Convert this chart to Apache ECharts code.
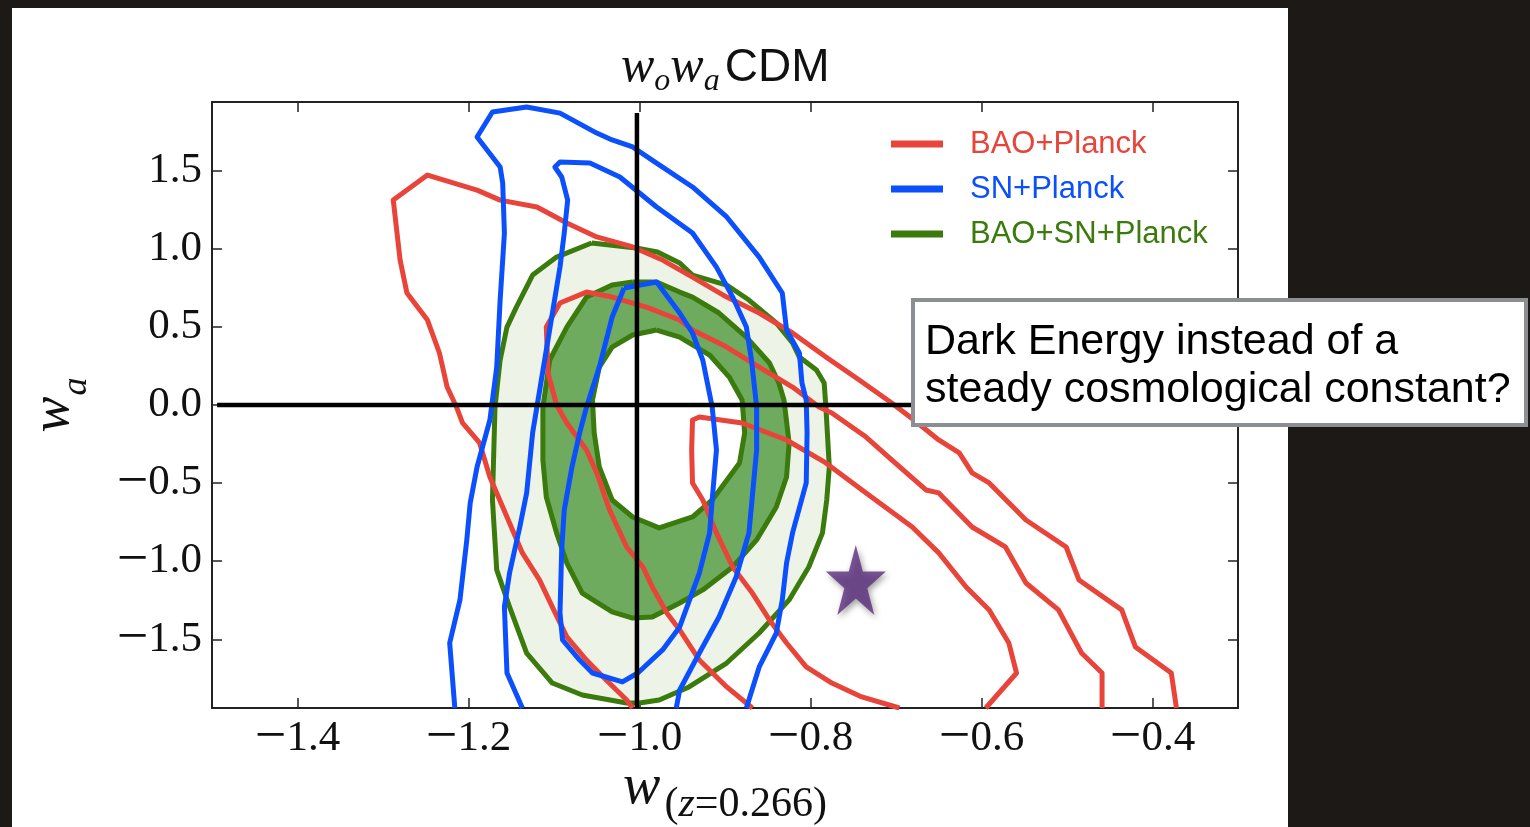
<!DOCTYPE html>
<html><head><meta charset="utf-8">
<script src="https://cdn.jsdelivr.net/npm/echarts@6/dist/echarts.min.js"></script>
<style>
html,body{margin:0;padding:0;background:#1d1916;width:1530px;height:827px;overflow:hidden}
#panel{position:absolute;left:12px;top:8px;width:1276px;height:819px;background:#fff}
#chart{position:absolute;left:0;top:0;width:1530px;height:827px}
</style></head><body>
<div id="panel"></div><div id="chart"></div>
<script>
// ---- axis ticks ----
const xTicks = [-1.4, -1.2, -1.0, -0.8, -0.6, -0.4];
const yTicks = [-1.5, -1.0, -0.5, 0, 0.5, 1.0, 1.5];

// ---- BAO+SN+Planck (green, filled) ----
const green95 = [[-1.056,1.037],[-1.004,1.005],[-0.979,0.980],[-0.953,0.909],[-0.938,0.832],[-0.898,0.768],[-0.872,0.672],[-0.840,0.525],[-0.821,0.397],[-0.813,0.307],[-0.793,0.224],[-0.784,0.141],[-0.782,-0.013],[-0.778,-0.397],[-0.781,-0.608],[-0.786,-0.819],[-0.802,-1.037],[-0.825,-1.248],[-0.860,-1.460],[-0.898,-1.652],[-0.942,-1.805],[-0.977,-1.889],[-1.000,-1.908],[-1.015,-1.908],[-1.067,-1.857],[-1.102,-1.780],[-1.132,-1.588],[-1.152,-1.293],[-1.167,-1.056],[-1.172,-0.608],[-1.169,-0.013],[-1.163,0.288],[-1.155,0.499],[-1.144,0.627],[-1.125,0.832],[-1.097,0.947],[-1.056,1.037]];
const green68 = [[-1.008,0.787],[-0.980,0.787],[-0.953,0.723],[-0.938,0.691],[-0.907,0.589],[-0.875,0.435],[-0.848,0.269],[-0.837,0.141],[-0.831,0.032],[-0.825,-0.243],[-0.828,-0.461],[-0.840,-0.653],[-0.863,-0.864],[-0.891,-1.037],[-0.926,-1.184],[-0.953,-1.268],[-0.985,-1.357],[-1.008,-1.364],[-1.032,-1.325],[-1.067,-1.204],[-1.085,-1.012],[-1.097,-0.819],[-1.109,-0.589],[-1.113,-0.352],[-1.113,-0.013],[-1.105,0.288],[-1.085,0.499],[-1.062,0.691],[-1.032,0.768],[-1.008,0.787]];
const green68hole = [[-0.980,0.480],[-0.953,0.435],[-0.918,0.320],[-0.895,0.179],[-0.880,0.032],[-0.877,-0.179],[-0.883,-0.371],[-0.915,-0.608],[-0.938,-0.717],[-0.977,-0.787],[-1.008,-0.717],[-1.032,-0.608],[-1.047,-0.397],[-1.053,-0.179],[-1.055,0.032],[-1.047,0.243],[-1.032,0.371],[-1.008,0.448],[-0.980,0.480]];

// ---- SN+Planck (blue) ----
const blueOuter = [[-1.216,-1.94],[-1.222,-1.524],[-1.210,-1.248],[-1.202,-0.864],[-1.198,-0.627],[-1.190,-0.397],[-1.175,-0.096],[-1.167,0.243],[-1.163,0.672],[-1.158,1.101],[-1.160,1.421],[-1.163,1.524],[-1.190,1.716],[-1.172,1.876],[-1.132,1.908],[-1.093,1.869],[-1.050,1.741],[-1.032,1.697],[-1.008,1.652],[-0.980,1.549],[-0.938,1.396],[-0.898,1.204],[-0.860,0.947],[-0.833,0.717],[-0.828,0.480],[-0.813,0.333],[-0.810,0.141],[-0.805,0.032],[-0.804,-0.179],[-0.805,-0.499],[-0.821,-0.819],[-0.828,-1.012],[-0.833,-1.248],[-0.840,-1.460],[-0.860,-1.677],[-0.875,-1.94]];
const blueInner = [[-1.137,-1.94],[-1.155,-1.716],[-1.158,-1.293],[-1.152,-1.076],[-1.140,-0.781],[-1.132,-0.563],[-1.125,-0.179],[-1.120,-0.013],[-1.109,0.352],[-1.093,0.883],[-1.088,1.101],[-1.084,1.312],[-1.091,1.460],[-1.099,1.524],[-1.093,1.556],[-1.058,1.549],[-1.023,1.460],[-1.000,1.357],[-0.980,1.268],[-0.938,1.101],[-0.910,0.883],[-0.891,0.691],[-0.875,0.499],[-0.869,0.288],[-0.863,-0.013],[-0.863,-0.288],[-0.872,-0.819],[-0.887,-1.101],[-0.907,-1.357],[-0.930,-1.588],[-0.953,-1.825],[-0.957,-1.94]];
const blueCore = [[-1.018,0.749],[-0.980,0.787],[-0.953,0.589],[-0.938,0.461],[-0.926,0.288],[-0.915,-0.013],[-0.910,-0.288],[-0.915,-0.608],[-0.918,-0.819],[-0.930,-1.076],[-0.953,-1.421],[-0.973,-1.568],[-1.002,-1.716],[-1.020,-1.773],[-1.055,-1.716],[-1.070,-1.633],[-1.090,-1.504],[-1.093,-1.332],[-1.091,-0.928],[-1.088,-0.672],[-1.079,-0.397],[-1.070,-0.179],[-1.062,-0.013],[-1.047,0.243],[-1.032,0.563],[-1.018,0.749]];

// ---- BAO+Planck (red) ----
const redOuter = [[-1.008,-1.94],[-1.015,-1.889],[-1.039,-1.761],[-1.062,-1.633],[-1.085,-1.485],[-1.102,-1.293],[-1.117,-1.120],[-1.137,-0.947],[-1.155,-0.717],[-1.175,-0.461],[-1.187,-0.243],[-1.207,-0.115],[-1.214,-0.013],[-1.225,0.115],[-1.234,0.333],[-1.248,0.544],[-1.272,0.717],[-1.280,0.928],[-1.288,1.312],[-1.248,1.472],[-1.190,1.376],[-1.163,1.312],[-1.120,1.268],[-1.085,1.165],[-1.050,1.076],[-1.008,1.012],[-0.973,0.928],[-0.938,0.819],[-0.898,0.691],[-0.860,0.589],[-0.821,0.461],[-0.782,0.307],[-0.743,0.160],[-0.705,0.013],[-0.679,-0.096],[-0.650,-0.224],[-0.626,-0.307],[-0.611,-0.435],[-0.591,-0.499],[-0.548,-0.736],[-0.501,-0.909],[-0.486,-1.120],[-0.436,-1.312],[-0.420,-1.549],[-0.378,-1.716],[-0.372,-1.94]];
const redMid = [[-0.868,-1.94],[-0.898,-1.805],[-0.930,-1.633],[-0.953,-1.440],[-0.968,-1.332],[-0.985,-1.165],[-0.996,-1.037],[-1.015,-0.909],[-1.035,-0.672],[-1.050,-0.435],[-1.062,-0.288],[-1.085,-0.115],[-1.097,0.000],[-1.107,0.205],[-1.109,0.499],[-1.093,0.653],[-1.062,0.723],[-1.032,0.691],[-0.992,0.627],[-0.953,0.544],[-0.938,0.480],[-0.898,0.371],[-0.860,0.243],[-0.821,0.115],[-0.790,-0.013],[-0.775,-0.051],[-0.735,-0.205],[-0.705,-0.352],[-0.665,-0.544],[-0.650,-0.563],[-0.611,-0.781],[-0.572,-0.909],[-0.548,-1.140],[-0.510,-1.312],[-0.483,-1.588],[-0.459,-1.716],[-0.459,-1.94]];
const redInner = [[-0.696,-1.94],[-0.740,-1.869],[-0.775,-1.780],[-0.805,-1.677],[-0.828,-1.524],[-0.848,-1.376],[-0.868,-1.204],[-0.891,-1.037],[-0.910,-0.819],[-0.926,-0.608],[-0.938,-0.499],[-0.939,-0.288],[-0.938,-0.096],[-0.930,-0.077],[-0.880,-0.115],[-0.828,-0.224],[-0.782,-0.371],[-0.735,-0.563],[-0.681,-0.781],[-0.650,-0.947],[-0.618,-1.165],[-0.591,-1.312],[-0.568,-1.524],[-0.559,-1.716],[-0.595,-1.94]];

// ---- reference lines and marker ----
const crossV = [[-1.003, 1.87], [-1.003, -1.94]];
const crossH = [[-1.494, 0], [-0.3, 0]];
const starPoint = [[-0.747, -1.12]];

const RED = '#e8443a', BLUE = '#0b4ffd', GREEN = '#3b7a0c';
const FILL_LIGHT = '#edf4e7', FILL_DARK = '#6eab5e';

const fills = [
  {pts: green95, color: FILL_LIGHT},
  {pts: green68, color: FILL_DARK},
  {pts: green68hole, color: '#ffffff'}
];

function lineS(name, data, color, z, w) {
  return {type: 'line', name: name, data: data, showSymbol: false, symbol: 'none',
    lineStyle: {color: color, width: w || 5, join: 'round'}, itemStyle: {color: color},
    z: z, silent: true, animation: false, clip: true};
}

function tickFmt(v) {
  const s = Math.abs(v).toFixed(1);
  return v < -1e-9 ? '{m|\u2212}{d|' + s + '}' : '{d|' + s + '}';
}
const labelRich = {
  m: {fontFamily: 'Liberation Serif', fontSize: 56, lineHeight: 43, color: '#111'},
  d: {fontFamily: 'Liberation Serif', fontSize: 43, lineHeight: 43, color: '#111'}
};

const chart = echarts.init(document.getElementById('chart'), null, {renderer: 'canvas'});
const option = {
  backgroundColor: 'transparent',
  animation: false,
  title: {
    left: 616, top: 43,
    text: '{w|w}{s|o}{w|w}{s|a}{c|CDM}',
    textStyle: {fontWeight: 'normal', rich: {
      w: {fontFamily: 'Liberation Serif', fontStyle: 'italic', fontWeight: 'normal', fontSize: 50, lineHeight: 50,
          color: '#111', padding: [0, 0, 5, 0], verticalAlign: 'bottom'},
      s: {fontFamily: 'Liberation Serif', fontStyle: 'italic', fontWeight: 'normal', fontSize: 32, lineHeight: 32,
          color: '#111', verticalAlign: 'bottom'},
      c: {fontFamily: 'Liberation Sans', fontWeight: 'normal', fontSize: 46, lineHeight: 46, color: '#111',
          padding: [0, 0, 7, 5], verticalAlign: 'bottom'}
    }}
  },
  legend: {
    orient: 'vertical', left: 886, top: 122, itemWidth: 52, itemHeight: 7, itemGap: 11,
    selectedMode: false,
    textStyle: {fontFamily: 'Liberation Sans', fontSize: 31, lineHeight: 34, padding: [0, 0, 0, 22]},
    data: [
      {name: 'BAO+Planck', icon: 'rect', itemStyle: {color: RED}, textStyle: {color: RED}},
      {name: 'SN+Planck', icon: 'rect', itemStyle: {color: BLUE}, textStyle: {color: BLUE}},
      {name: 'BAO+SN+Planck', icon: 'rect', itemStyle: {color: GREEN}, textStyle: {color: GREEN}}
    ]
  },
  grid: {left: 212, top: 102, width: 1026, height: 606, containLabel: false, outerBoundsMode: 'none'},
  xAxis: [{
    type: 'value', min: -1.5, max: -0.3, position: 'bottom',
    axisLine: {show: true, onZero: false, lineStyle: {color: '#222', width: 2}},
    axisTick: {show: true, inside: true, length: 10, customValues: xTicks, lineStyle: {color: '#222', width: 1.5}},
    axisLabel: {show: true, customValues: xTicks, formatter: tickFmt, margin: 9,
      fontFamily: 'Liberation Serif', fontSize: 43, color: '#111', rich: labelRich},
    splitLine: {show: false},
    name: '{w|w}{p|(}{z|z}{p|=0.266)}', nameLocation: 'middle', nameGap: 62, nameMoveOverlap: false,
    nameTextStyle: {rich: {
      w: {fontFamily: 'Liberation Serif', fontStyle: 'italic', fontSize: 56, lineHeight: 56, color: '#111',
          padding: [0, 4, 10, 0], verticalAlign: 'bottom'},
      p: {fontFamily: 'Liberation Serif', fontSize: 42, lineHeight: 42, color: '#111', verticalAlign: 'bottom'},
      z: {fontFamily: 'Liberation Serif', fontStyle: 'italic', fontSize: 42, lineHeight: 42, color: '#111', verticalAlign: 'bottom'}
    }}
  }, {
    type: 'value', min: -1.5, max: -0.3, position: 'top',
    axisLine: {show: true, onZero: false, lineStyle: {color: '#222', width: 2}},
    axisTick: {show: true, inside: true, length: 10, customValues: xTicks, lineStyle: {color: '#222', width: 1.5}},
    axisLabel: {show: false}, splitLine: {show: false}
  }],
  yAxis: [{
    type: 'value', min: -1.94, max: 1.94, position: 'left',
    axisLine: {show: true, onZero: false, lineStyle: {color: '#222', width: 2}},
    axisTick: {show: true, inside: true, length: 10, customValues: yTicks, lineStyle: {color: '#222', width: 1.5}},
    axisLabel: {show: true, customValues: yTicks, formatter: tickFmt, margin: 10,
      fontFamily: 'Liberation Serif', fontSize: 43, color: '#111', rich: labelRich},
    splitLine: {show: false},
    name: '{w|w}{s|a}', nameLocation: 'middle', nameRotate: 90, nameGap: 117, nameMoveOverlap: false,
    nameTextStyle: {rich: {
      w: {fontFamily: 'Liberation Serif', fontStyle: 'italic', fontSize: 54, lineHeight: 54, color: '#111',
          padding: [0, 1, 14, 0], verticalAlign: 'bottom'},
      s: {fontFamily: 'Liberation Serif', fontStyle: 'italic', fontSize: 36, lineHeight: 36, color: '#111', verticalAlign: 'bottom'}
    }}
  }, {
    type: 'value', min: -1.94, max: 1.94, position: 'right',
    axisLine: {show: true, onZero: false, lineStyle: {color: '#222', width: 2}},
    axisTick: {show: true, inside: true, length: 10, customValues: yTicks, lineStyle: {color: '#222', width: 1.5}},
    axisLabel: {show: false}, splitLine: {show: false}
  }],
  series: [
    {
      type: 'custom', name: 'BAO+SN+Planck', coordinateSystem: 'cartesian2d', silent: true, clip: true, z: 1,
      data: fills.map(f => [f.pts[0][0], f.pts[0][1]]),
      encode: {x: 0, y: 1},
      renderItem: function (params, api) {
        const f = fills[params.dataIndex];
        return {type: 'polygon', shape: {points: f.pts.map(p => api.coord(p))}, style: {fill: f.color}};
      }
    },
    lineS('BAO+SN+Planck', green95, GREEN, 3),
    lineS('BAO+SN+Planck', green68, GREEN, 3),
    lineS('BAO+SN+Planck', green68hole, GREEN, 3),
    lineS('BAO+Planck', redOuter, RED, 4),
    lineS('BAO+Planck', redMid, RED, 4),
    lineS('BAO+Planck', redInner, RED, 4),
    lineS('SN+Planck', blueOuter, BLUE, 5),
    lineS('SN+Planck', blueInner, BLUE, 5),
    lineS('SN+Planck', blueCore, BLUE, 5),
    lineS('', crossV, '#000', 6, 4.5),
    lineS('', crossH, '#000', 6, 4.5),
    {
      type: 'scatter', data: starPoint, silent: true, z: 7,
      symbol: 'path://M50 0L61.2 34.5L97.6 34.5L68.2 55.9L79.4 90.5L50 69.1L20.6 90.5L31.8 55.9L2.4 34.5L38.8 34.5Z',
      symbolSize: [60, 70],
      itemStyle: {color: '#5c2e7e', shadowBlur: 6, shadowColor: 'rgba(0,0,0,0.45)', shadowOffsetX: 2, shadowOffsetY: 3}
    }
  ],
  graphic: [
    {type: 'rect', z: 100, shape: {x: 913, y: 300, width: 613, height: 125},
      style: {fill: '#ffffff', stroke: '#8b8e92', lineWidth: 4}},
    {type: 'text', z: 101, x: 925, y: 318,
      style: {text: 'Dark Energy instead of a\nsteady cosmological constant?', font: '43px "Liberation Sans"',
        fill: '#000', lineHeight: 48, verticalAlign: 'top'}}
  ]
};
chart.setOption(option);
</script></body></html>
